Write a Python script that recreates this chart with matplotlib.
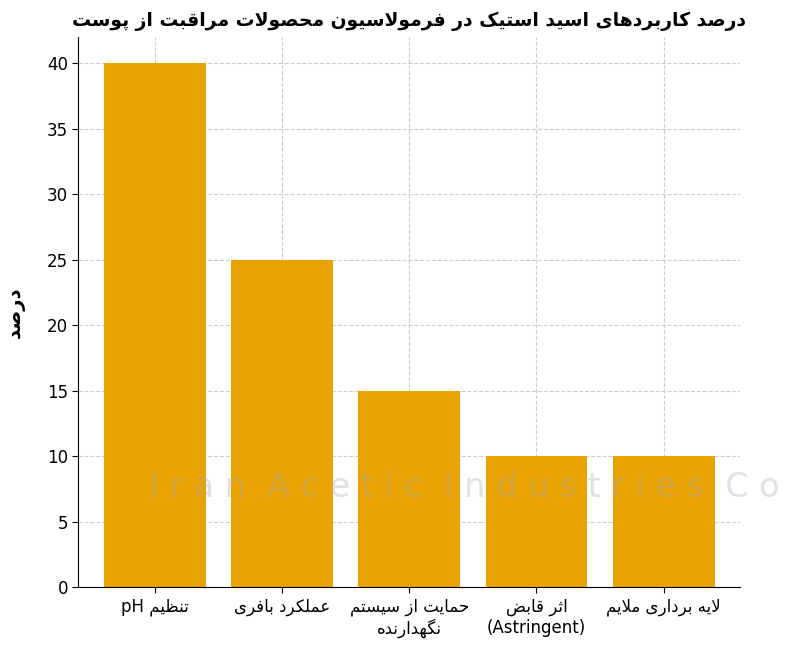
import matplotlib
matplotlib.use("Agg")
import matplotlib.pyplot as plt

# presentation forms: isolated, final, initial, medial
FORMS = {
    "ا": "\uFE8D\uFE8E", "د": "\uFEA9\uFEAA", "ر": "\uFEAD\uFEAE", "ز": "\uFEAF\uFEB0", "و": "\uFEED\uFEEE",
    "ب": "\uFE8F\uFE90\uFE91\uFE92", "پ": "\uFB56\uFB57\uFB58\uFB59", "ت": "\uFE95\uFE96\uFE97\uFE98",
    "ث": "\uFE99\uFE9A\uFE9B\uFE9C", "ح": "\uFEA1\uFEA2\uFEA3\uFEA4", "س": "\uFEB1\uFEB2\uFEB3\uFEB4",
    "ص": "\uFEB9\uFEBA\uFEBB\uFEBC", "ض": "\uFEBD\uFEBE\uFEBF\uFEC0", "ظ": "\uFEC5\uFEC6\uFEC7\uFEC8",
    "ع": "\uFEC9\uFECA\uFECB\uFECC", "ف": "\uFED1\uFED2\uFED3\uFED4", "ق": "\uFED5\uFED6\uFED7\uFED8",
    "ک": "\uFB8E\uFB8F\uFB90\uFB91", "گ": "\uFB92\uFB93\uFB94\uFB95", "ل": "\uFEDD\uFEDE\uFEDF\uFEE0",
    "م": "\uFEE1\uFEE2\uFEE3\uFEE4", "ن": "\uFEE5\uFEE6\uFEE7\uFEE8", "ه": "\uFEE9\uFEEA\uFEEB\uFEEC",
    "ی": "\uFBFC\uFBFD\uFBFE\uFBFF",
}


def shape_word(w):
    w = w.replace("لا", "\x01")
    out = []
    for i, c in enumerate(w):
        prev = w[i - 1] if i > 0 else None
        nxt = w[i + 1] if i + 1 < len(w) else None
        joins_prev = prev is not None and prev in FORMS and len(FORMS[prev]) == 4
        if c == "\x01":
            out.append("\uFEFC" if joins_prev else "\uFEFB")
            continue
        if c not in FORMS:
            out.append(c)
            continue
        f = FORMS[c]
        joins_next = len(f) == 4 and nxt is not None and (nxt in FORMS or nxt == "\x01")
        if joins_prev and joins_next:
            out.append(f[3])
        elif joins_prev:
            out.append(f[1])
        elif joins_next:
            out.append(f[2])
        else:
            out.append(f[0])
    return "".join(out)


def rtl(s):
    words = []
    for w in s.split(" "):
        if any(ch in FORMS for ch in w):
            words.append(shape_word(w)[::-1])
        else:
            words.append(w)
    return " ".join(words[::-1])


title = "درصد کاربردهای اسید استیک در فرمولاسیون محصولات مراقبت از پوست"
ylabel = "درصد"
categories = [rtl("تنظیم pH"),
              rtl("عملکرد بافری"),
              rtl("حمایت از سیستم") + "\n" + rtl("نگهدارنده"),
              rtl("اثر قابض") + "\n(Astringent)",
              rtl("لایه برداری ملایم")]
values = [40, 25, 15, 10, 10]

plt.rcParams["font.family"] = ["DejaVu Sans"]
fig, ax = plt.subplots(figsize=(8, 6.66), dpi=100)
fig.subplots_adjust(left=0.098, right=0.925, top=0.944, bottom=0.118)

ax.grid(True, color="#cccccc", linestyle="--", linewidth=0.8)
ax.set_axisbelow(True)
ax.bar(range(len(values)), values, width=0.8, color="#E8A202")
ax.set_xticks(range(len(values)))
ax.set_xticklabels(categories, fontsize=12)
ax.set_ylim(0, 42)
ax.set_xlim(-0.6, 4.6)
ax.tick_params(axis="y", labelsize=12)
ax.tick_params(length=4)
for s in ["top", "right"]:
    ax.spines[s].set_visible(False)
ax.set_ylabel(rtl(ylabel), fontsize=14, fontweight="bold", labelpad=16)
ax.set_title(rtl(title), fontsize=13.5, fontweight="bold", pad=8)

fig.text(0.58, 0.268, "I r a n  A c e t i c  I n d u s t r i e s  C o", fontsize=24, color="#aaaaaa",
         alpha=0.35, ha="center", va="center")

fig.savefig("out.png")
